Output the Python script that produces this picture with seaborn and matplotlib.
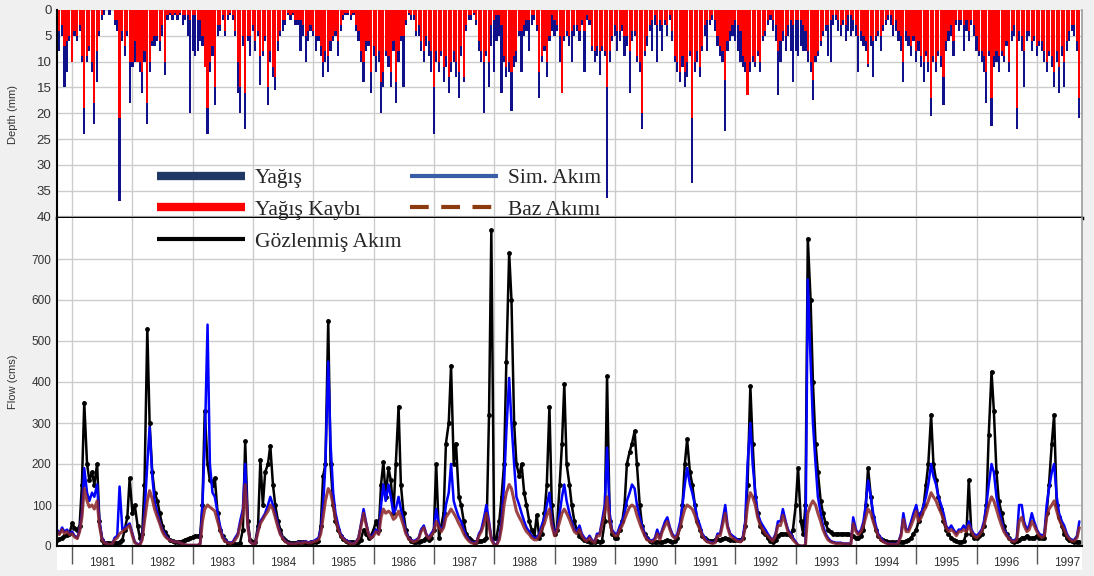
import pandas as pd
import matplotlib
matplotlib.use("Agg")
import matplotlib.pyplot as plt
import matplotlib.dates as mdates
from matplotlib.lines import Line2D
from matplotlib.patches import Rectangle
from matplotlib.ticker import NullFormatter
import seaborn as sns

sns.set_theme(style="whitegrid")
plt.rcParams['font.family'] = ['Liberation Sans', 'DejaVu Sans']

# Water years Oct 1980 - Sep 1997, values read on the 1st and 15th of each month
# one row = one water year (Oct1, Oct15, Nov1, ... Sep15)
obs_flow = [
    15, 18, 20, 25, 28, 30, 55, 45, 40, 50, 150, 350, 200, 160, 180, 150, 200, 60, 15, 8, 8, 7, 7, 8,
    8, 10, 15, 40, 70, 165, 80, 100, 50, 20, 30, 150, 530, 300, 180, 130, 110, 80, 50, 35, 25, 15, 12, 10,
    10, 10, 12, 15, 18, 20, 22, 25, 25, 25, 100, 330, 200, 160, 150, 165, 80, 40, 25, 15, 8, 5, 5, 5,
    5, 8, 40, 255, 60, 15, 10, 10, 50, 210, 100, 180, 200, 245, 150, 100, 60, 40, 20, 15, 10, 8, 8, 8,
    10, 10, 10, 8, 8, 10, 10, 10, 12, 50, 170, 200, 550, 200, 100, 60, 40, 25, 18, 12, 10, 10, 10, 8,
    10, 15, 40, 30, 20, 25, 40, 60, 40, 150, 205, 120, 190, 160, 80, 200, 340, 150, 80, 40, 20, 12, 10, 10,
    10, 12, 15, 20, 15, 20, 40, 200, 20, 50, 80, 250, 300, 440, 200, 250, 120, 100, 60, 30, 20, 15, 10, 10,
    12, 12, 15, 20, 320, 770, 20, 20, 60, 120, 200, 450, 715, 600, 300, 200, 170, 200, 130, 100, 60, 40, 25, 75,
    20, 30, 80, 150, 340, 100, 30, 40, 150, 250, 395, 200, 150, 100, 60, 40, 25, 20, 15, 12, 10, 10, 10, 12,
    10, 12, 60, 415, 60, 30, 20, 20, 40, 60, 100, 200, 230, 250, 280, 200, 100, 50, 30, 20, 12, 10, 10, 10,
    10, 10, 12, 15, 12, 10, 12, 20, 50, 100, 200, 260, 180, 150, 100, 60, 40, 25, 20, 15, 12, 12, 15, 18,
    15, 18, 20, 18, 15, 15, 15, 15, 15, 20, 50, 150, 390, 250, 120, 80, 50, 35, 30, 20, 12, 10, 15, 25,
    30, 30, 30, 30, 25, 40, 100, 190, 60, 30, 100, 750, 600, 400, 250, 180, 110, 80, 55, 40, 35, 30, 30, 30,
    30, 30, 30, 30, 28, 25, 20, 20, 25, 40, 100, 190, 120, 70, 40, 25, 18, 15, 12, 10, 10, 10, 10, 10,
    10, 10, 12, 15, 20, 30, 40, 60, 80, 100, 150, 200, 320, 200, 160, 120, 90, 60, 40, 30, 20, 15, 12, 10,
    10, 12, 30, 160, 30, 20, 20, 25, 30, 50, 100, 270, 425, 330, 180, 110, 80, 50, 30, 20, 12, 10, 12, 15,
    20, 20, 25, 20, 20, 20, 25, 20, 20, 20, 80, 150, 250, 320, 100, 70, 50, 30, 20, 15, 12, 10, 10, 10,
]
sim_flow = [
    40, 30, 45, 35, 40, 30, 35, 25, 20, 40, 80, 190, 130, 110, 130, 120, 150, 60, 20, 10, 5, 3, 5, 20,
    25, 145, 40, 45, 50, 55, 30, 10, 5, 3, 20, 80, 200, 290, 170, 110, 80, 60, 40, 30, 20, 15, 12, 10,
    10, 8, 5, 3, 2, 2, 2, 2, 2, 5, 100, 250, 540, 200, 130, 120, 80, 50, 25, 15, 10, 8, 10, 20,
    30, 60, 90, 200, 50, 10, 5, 5, 40, 60, 70, 80, 100, 120, 100, 80, 50, 30, 20, 12, 8, 6, 5, 5,
    10, 8, 10, 12, 8, 10, 12, 15, 20, 40, 100, 200, 450, 250, 130, 80, 50, 30, 20, 15, 10, 8, 6, 10,
    20, 50, 90, 60, 30, 20, 30, 40, 30, 100, 150, 110, 150, 120, 80, 90, 120, 90, 60, 35, 20, 15, 12, 15,
    20, 40, 50, 30, 20, 30, 40, 90, 50, 40, 50, 100, 130, 200, 110, 90, 70, 60, 40, 25, 15, 10, 8, 8,
    30, 40, 70, 100, 60, 20, 5, 3, 20, 60, 150, 280, 410, 300, 200, 120, 100, 80, 60, 45, 35, 25, 20, 20,
    30, 50, 70, 100, 130, 60, 30, 40, 80, 120, 150, 110, 80, 60, 40, 35, 50, 30, 20, 15, 25, 15, 10, 30,
    30, 60, 100, 240, 80, 40, 30, 30, 50, 60, 80, 110, 130, 150, 140, 100, 70, 50, 30, 20, 15, 12, 20, 40,
    20, 40, 60, 70, 45, 30, 20, 30, 60, 100, 150, 190, 150, 130, 100, 70, 50, 30, 20, 12, 10, 8, 10, 30,
    30, 60, 100, 50, 30, 25, 20, 15, 12, 20, 60, 200, 300, 200, 130, 80, 60, 50, 40, 30, 20, 15, 30, 60,
    60, 90, 60, 40, 30, 20, 10, 2, 0, 0, 2, 650, 450, 300, 200, 120, 80, 50, 30, 20, 12, 10, 8, 8,
    8, 6, 6, 6, 5, 70, 40, 30, 40, 60, 100, 160, 120, 80, 50, 30, 20, 12, 8, 6, 5, 5, 5, 10,
    30, 80, 40, 40, 60, 80, 100, 70, 80, 100, 120, 150, 200, 170, 150, 120, 100, 80, 50, 40, 50, 40, 30, 40,
    40, 50, 40, 60, 40, 30, 25, 30, 40, 60, 100, 150, 200, 180, 120, 90, 60, 40, 30, 20, 15, 12, 20, 100,
    100, 60, 40, 50, 80, 60, 40, 30, 25, 30, 100, 140, 180, 200, 120, 80, 60, 50, 30, 20, 15, 15, 25, 60,
]
base_flow = [
    35, 28, 40, 30, 35, 28, 30, 22, 18, 35, 70, 140, 110, 95, 100, 90, 110, 50, 15, 8, 5, 3, 5, 15,
    20, 30, 35, 40, 45, 50, 25, 8, 3, 2, 15, 60, 110, 135, 115, 90, 70, 55, 35, 25, 18, 14, 12, 10,
    10, 8, 5, 3, 2, 2, 2, 2, 2, 5, 60, 90, 100, 95, 90, 85, 60, 40, 20, 12, 8, 6, 8, 15,
    25, 50, 75, 150, 45, 10, 5, 5, 35, 55, 65, 75, 85, 100, 90, 70, 45, 28, 18, 10, 7, 5, 5, 5,
    8, 7, 8, 10, 7, 8, 10, 12, 15, 30, 70, 110, 140, 130, 100, 65, 40, 25, 18, 12, 8, 6, 5, 8,
    18, 45, 80, 55, 28, 18, 25, 35, 28, 70, 90, 80, 85, 80, 65, 70, 85, 70, 50, 30, 18, 13, 10, 12,
    18, 35, 45, 28, 18, 25, 35, 60, 45, 35, 45, 70, 80, 90, 80, 70, 55, 45, 30, 20, 12, 8, 6, 6,
    25, 35, 55, 80, 50, 15, 3, 2, 15, 45, 100, 130, 150, 140, 110, 85, 70, 60, 45, 35, 28, 20, 15, 15,
    25, 40, 55, 75, 90, 50, 25, 35, 60, 80, 90, 80, 65, 50, 35, 30, 40, 25, 15, 12, 20, 12, 8, 25,
    25, 50, 80, 120, 60, 35, 25, 25, 40, 50, 65, 80, 95, 100, 95, 75, 55, 40, 25, 15, 12, 10, 15, 30,
    15, 35, 50, 60, 40, 25, 18, 25, 45, 70, 90, 100, 95, 90, 75, 55, 40, 25, 15, 10, 8, 6, 8, 25,
    25, 50, 80, 45, 25, 20, 15, 12, 10, 15, 45, 100, 130, 120, 100, 70, 50, 40, 30, 25, 18, 12, 25, 50,
    50, 75, 55, 35, 25, 15, 8, 2, 0, 0, 2, 80, 100, 110, 100, 80, 60, 40, 25, 15, 10, 8, 6, 6,
    6, 5, 5, 5, 5, 55, 35, 28, 35, 50, 70, 90, 80, 60, 40, 25, 15, 10, 7, 5, 4, 4, 4, 8,
    25, 65, 35, 35, 50, 65, 85, 60, 70, 85, 95, 110, 130, 120, 110, 95, 80, 65, 45, 35, 40, 35, 25, 35,
    35, 40, 35, 50, 35, 25, 20, 25, 35, 50, 75, 100, 120, 110, 90, 70, 50, 35, 25, 18, 12, 10, 15, 60,
    70, 50, 35, 40, 60, 50, 35, 25, 20, 25, 70, 90, 100, 110, 85, 65, 50, 40, 25, 18, 12, 12, 20, 45,
]
precip = [
    10, 8, 5, 15, 12, 6, 10, 5, 6, 4, 10, 24, 10, 8, 12, 22, 14, 5, 2, 1, 0, 1, 0, 3,
    4, 37, 6, 9, 5, 18, 11, 10, 10, 12, 16, 10, 22, 12, 7, 7, 6, 8, 5, 12.5, 2, 1, 2, 1,
    2, 1, 3, 2, 5, 20, 8, 9, 8, 6, 7, 11, 24, 12, 9, 18.5, 5, 4, 2, 5, 2, 1, 2, 5,
    16, 20, 7, 23, 6, 9, 4, 8, 5, 14.5, 9, 6, 18.5, 10, 13, 15.5, 8, 5, 4, 3, 1, 2, 1, 3,
    3, 8, 5, 10, 6, 4, 5, 8, 6, 9, 13, 10, 12, 8, 6, 5, 9, 4, 2, 1, 1, 2, 1, 4,
    6, 10, 14, 8, 7, 16, 9, 12, 10, 20, 15, 9, 11, 15, 8, 18, 10, 6, 15, 3, 1, 2, 2, 5,
    5, 8, 10, 7, 9, 12, 24, 10, 12, 9, 14, 11, 16, 12, 10, 13, 17, 9, 14, 4, 2, 2, 1, 3,
    8, 10, 20, 9, 15, 7, 12, 6, 5, 16, 10, 13, 12, 19.5, 11, 10, 5, 12, 5, 4, 8, 3, 2, 4,
    17, 10, 8, 13, 6, 4, 5, 4, 10, 16, 6, 5, 7, 10, 5, 4, 6, 3, 12, 2, 3, 8, 10, 9,
    12.5, 8, 9, 36.5, 10, 6, 5, 8, 6, 4, 9, 7, 16, 6, 5, 10, 12, 23, 9, 7, 4, 8, 3, 10,
    4, 8, 3, 5, 2, 6, 10, 12, 14, 11, 15, 13, 9, 33.5, 12, 10, 13, 8, 5, 8, 3, 2, 4, 7,
    9, 10, 23.5, 8, 6, 5, 6, 8, 10, 11, 12, 16.5, 12, 10, 11, 9, 12, 6, 5, 3, 2, 4, 6, 16.5,
    10, 6, 8, 5, 8, 14, 8, 9, 7, 8, 8, 10, 12, 17.5, 10, 9, 7, 5, 4, 9, 10, 3, 2, 4,
    5, 3, 6, 4, 5, 4, 5, 12, 6, 7, 8, 11, 7, 13, 6, 5, 8, 4, 3, 2, 3, 5, 4, 6,
    8, 14, 6, 7, 9, 6, 10, 8, 11, 14, 9, 12, 20.5, 10, 12, 9, 11, 18.5, 8, 6, 5, 9, 3, 4,
    3, 8, 4, 6, 3, 5, 8, 9, 10, 12, 18, 9, 22.5, 11, 10, 12, 9, 10, 7, 12, 6, 5, 23, 6,
    8, 15, 6, 5, 8, 6, 9, 7, 8, 10, 12, 9, 11, 15, 10, 16, 9, 15, 8, 6, 4, 5, 8, 21,
]
precip_loss = [
    9, 4, 3, 7, 6, 5, 10, 4, 5, 3, 9, 19, 9, 7, 10, 18, 8, 4, 1, 0, 0, 0, 0, 2,
    2, 21, 4, 7, 4, 10, 10, 6, 10, 10, 12, 8, 18, 10, 6, 5, 5, 6, 3, 10, 1, 0.5, 1, 0.5,
    1, 0.5, 1, 1, 1, 2, 1, 1, 2, 2, 5, 11, 19, 10, 7, 15, 3, 3, 1, 4, 1, 0.5, 1, 4,
    10, 15, 5, 16, 5, 5, 3, 6, 4, 9, 8, 5, 15, 8, 11, 13, 6, 4, 2, 2, 0.5, 1, 0.5, 2,
    2, 2, 3, 5, 4, 3, 4, 5, 5, 7, 10, 8, 9, 6, 5, 4, 6, 3, 1, 0.5, 0.5, 1, 0.5, 3,
    4, 8, 10, 6, 6, 12, 7, 9, 8, 14, 12, 8, 9, 12, 6, 14, 8, 5, 5, 2, 0.5, 1, 1, 4,
    3, 6, 8, 5, 6, 8, 15, 8, 10, 8, 11, 9, 13, 10, 8, 10, 12, 7, 13, 3, 1, 1, 0.5, 2,
    6, 8, 10, 8, 10, 3, 2, 1, 1, 3, 9, 11, 10, 12, 9, 8, 4, 4, 3, 2, 2, 1, 1, 3,
    12, 9, 7, 10, 5, 1, 2, 3, 5, 16, 5, 4, 5, 4, 3, 3, 4, 2, 4, 1, 2, 7, 8, 7,
    8, 7, 8, 15, 8, 5, 3, 4, 4, 3, 5, 5, 8, 4, 4, 9, 10, 20, 8, 5, 3, 2, 1, 3,
    2, 3, 2, 3, 1, 4, 9, 10, 12, 9, 12, 10, 8, 21, 10, 8, 11, 7, 3, 2, 2, 1, 2, 5,
    7, 8, 13.5, 6, 4, 3, 2, 3, 4, 9, 10, 16.5, 10, 9, 10, 8, 10, 5, 4, 2, 1, 2, 3, 8,
    6, 4, 5, 3, 2, 3, 2, 2, 2, 3, 4, 8, 10, 13.5, 9, 8, 6, 4, 3, 3, 2, 1, 1, 2,
    3, 2, 3, 1, 1, 2, 3, 5, 4, 5, 6, 10.5, 5, 6, 5, 4, 5, 3, 2, 1, 1, 3, 2, 4,
    5, 10, 4, 5, 7, 5, 8, 6, 9, 10, 8, 10, 17, 9, 10, 8, 9, 13, 6, 4, 3, 6, 2, 2,
    2, 3, 2, 4, 2, 3, 5, 8, 8, 9, 12, 8, 17, 9, 8, 9, 8, 9, 6, 10, 4, 3, 19, 4,
    5, 8, 4, 4, 6, 5, 7, 6, 6, 8, 10, 8, 9, 12, 8, 11, 7, 10, 6, 4, 3, 3, 6, 17,
]

legend_labels = ["Yağış", "Yağış Kaybı", "Gözlenmiş Akım", "Sim. Akım", "Baz Akımı"]

dates = pd.date_range("1980-10-01", "1997-09-30", freq="SMS")
df = pd.DataFrame({"date": dates, "obs": obs_flow, "sim": sim_flow, "base": base_flow,
                   "precip": precip, "loss": precip_loss})

W, H = 1094, 576
fig = plt.figure(figsize=(W / 100, H / 100), dpi=100, facecolor="#f0f0f0")
x0, x1 = 57, 1082
ax_p = fig.add_axes([x0 / W, 1 - 218 / H, (x1 - x0) / W, (218 - 10) / H])
ax_q = fig.add_axes([x0 / W, 1 - 546 / H, (x1 - x0) / W, (546 - 218) / H], sharex=ax_p)
fig.add_artist(Rectangle((x0 / W, 1 - 570 / H), (x1 - x0) / W, 24 / H,
                         transform=fig.transFigure, facecolor="white", edgecolor="none", zorder=0))

# precipitation (top, inverted)
ax_p.bar(df["date"], df["precip"], width=13, color="#10108a", linewidth=0)
ax_p.bar(df["date"], df["loss"], width=13, color="#ff0000", linewidth=0)
ax_p.set_ylim(40.3, 0)
ax_p.set_yticks(range(0, 45, 5))
ax_p.set_ylabel("Depth (mm)", fontsize=8, color="#333333")
ax_p.yaxis.set_label_coords(-0.038, 0.5)

# flows (bottom)
sns.lineplot(data=df, x="date", y="obs", color="black", lw=1.8, marker="o",
             markersize=3.5, markeredgewidth=0, ax=ax_q)
sns.lineplot(data=df, x="date", y="sim", color="#0000ff", lw=1.8, ax=ax_q)
sns.lineplot(data=df, x="date", y="base", color="#8b2525", lw=2.2, alpha=0.85, ax=ax_q)
ax_q.set_ylim(0, 800)
ax_q.set_yticks(range(0, 800, 100))
ax_q.set_xlabel("")
ax_q.set_ylabel("Flow (cms)", fontsize=8, color="#333333")
ax_q.yaxis.set_label_coords(-0.038, 0.5)
ax_q.set_xlim(pd.Timestamp("1980-10-01"), pd.Timestamp("1997-10-01"))

for ax in (ax_p, ax_q):
    ax.set_facecolor("white")
    ax.grid(True, which="major", color="#cccccc", lw=1)
    ax.spines["top"].set_visible(False)
    ax.spines["right"].set_color("#a0a0a0")
    ax.spines["left"].set_color("black")
    ax.spines["left"].set_linewidth(1.5)
    ax.xaxis.set_major_locator(mdates.YearLocator())
    ax.xaxis.set_major_formatter(NullFormatter())
    ax.tick_params(axis="y", length=0, pad=4, labelcolor="#333333")

ax_p.tick_params(axis="y", labelsize=9.5)
ax_q.tick_params(axis="y", labelsize=8.5)
ax_p.spines["bottom"].set_color("black")
ax_p.spines["bottom"].set_linewidth(2.5)
ax_p.spines["bottom"].set_zorder(5)
ax_p.tick_params(axis="x", which="both", length=0, labelbottom=False)
ax_q.spines["bottom"].set_color("black")
ax_q.spines["bottom"].set_linewidth(1.5)

ax_q.xaxis.set_minor_locator(mdates.MonthLocator(bymonth=7))
ax_q.xaxis.set_minor_formatter(mdates.DateFormatter("%Y"))
ax_q.tick_params(axis="x", which="major", length=13, width=1, color="#555555", bottom=True)
ax_q.tick_params(axis="x", which="minor", length=0, pad=8, labelsize=8.5, labelcolor="#333333", bottom=True)

handles = [
    Line2D([], [], color="#1f3864", lw=6, solid_capstyle="butt"),
    Line2D([], [], color="#ff0000", lw=6, solid_capstyle="butt"),
    Line2D([], [], color="black", lw=3, solid_capstyle="butt"),
    Line2D([], [], color="#3a5da8", lw=3, solid_capstyle="butt"),
    Line2D([], [], color="#8b3a0f", lw=3, linestyle=(0, (4.5, 3)), dash_capstyle="butt"),
]
fig.legend(handles, legend_labels, ncol=2, loc="upper left",
           bbox_to_anchor=(157 / W, 1 - 168 / H), frameon=False, borderpad=0,
           borderaxespad=0, handlelength=4.1, handletextpad=0.45, columnspacing=0.4,
           labelspacing=0.55, prop={"family": "Liberation Serif", "size": 15.5})

fig.savefig("out.png", dpi=100, facecolor=fig.get_facecolor())
